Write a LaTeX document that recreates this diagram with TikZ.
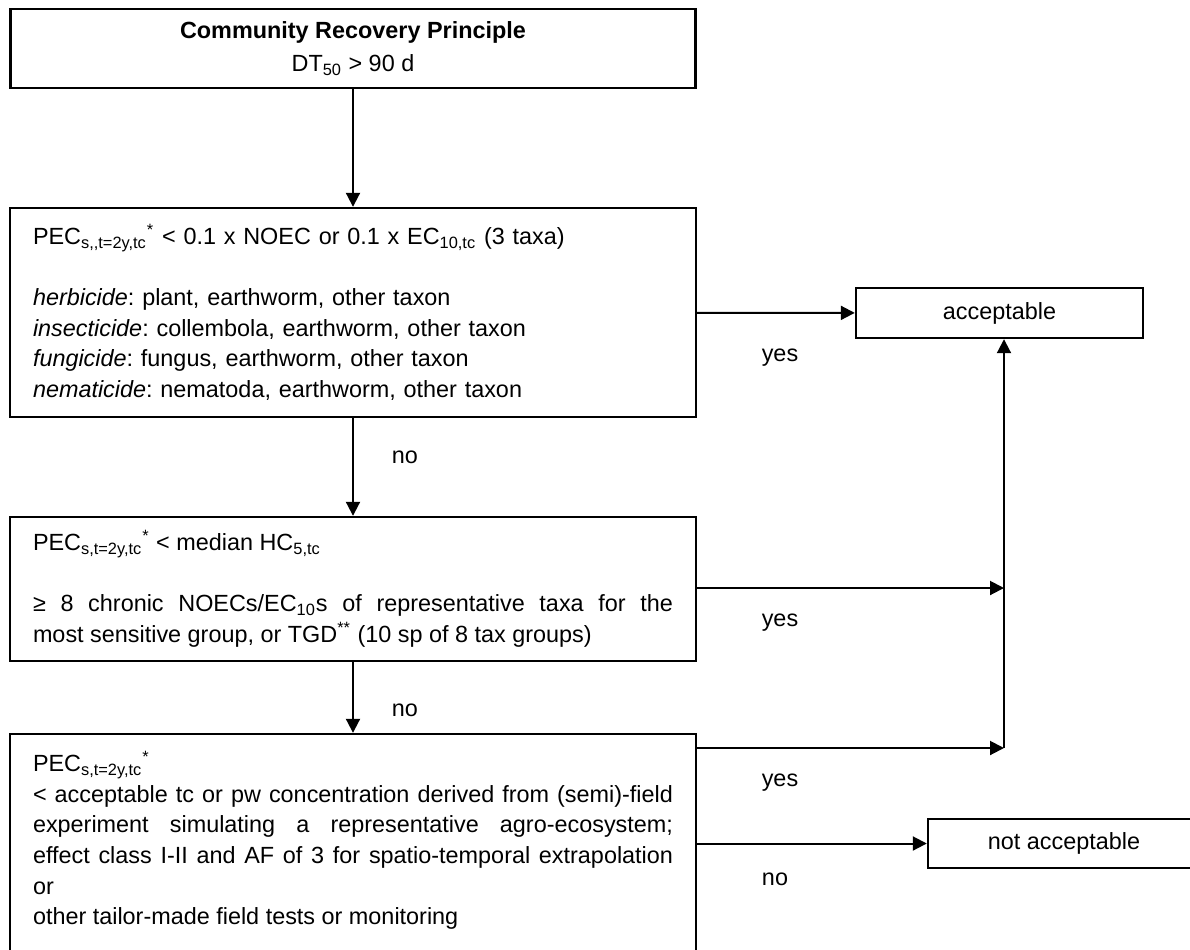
\documentclass[tikz,border=0pt]{standalone}
\usepackage{fontspec}
\setmainfont{Liberation Sans}
\usetikzlibrary{arrows.meta}
\frenchspacing
\hyphenpenalty=10000
\begin{document}
\begin{tikzpicture}[x=0.5pt,y=-0.5pt,
    box/.style={draw,line width=1.2pt,inner sep=0pt,font=\fontsize{11.7}{15.3}\selectfont},
    lbl/.style={inner sep=0pt,font=\fontsize{11.7}{13}\selectfont},
    arr/.style={-{Triangle[length=7pt,width=7pt]},line width=1pt}]
  \useasboundingbox (0,0) rectangle (1190,949);
  \node[box,minimum width=342.5pt,minimum height=39.5pt,align=center] (crp) at (353,48.5)
    {\textbf{Community Recovery Principle}\\[1.5pt]DT\textsubscript{50} > 90 d};
  \node[box,minimum width=343pt,minimum height=104.5pt,text width=320pt,align=left] (tier1) at (353,312.5)
    {PEC\textsubscript{s,\kern0pt,t=2y,tc}\textsuperscript{*} < 0.1 x NOEC or 0.1 x EC\textsubscript{10,tc} (3 taxa)\\[15.3pt]
     \textit{herbicide}: plant, earthworm, other taxon\\
     \textit{insecticide}: collembola, earthworm, other taxon\\
     \textit{fungicide}: fungus, earthworm, other taxon\\
     \textit{nematicide}: nematoda, earthworm, other taxon};
  \node[box,minimum width=343pt,minimum height=72pt,text width=320pt,align=justify] (tier2) at (353,589)
    {PEC\textsubscript{s,t=2y,tc}\textsuperscript{*} < median HC\textsubscript{5,tc}\\[15.3pt]
     ≥ 8 chronic NOECs/EC\textsubscript{10}s of representative taxa for the\linebreak
     most sensitive group, or TGD\textsuperscript{**} (10 sp of 8 tax groups)};
  \node[box,minimum width=343pt,minimum height=120.5pt,text width=320pt,align=justify] (tier3) at (353,854.5)
    {PEC\textsubscript{s,t=2y,tc}\textsuperscript{*}\\
     < acceptable tc or pw concentration derived from (semi)-field\linebreak
     experiment simulating a representative agro-ecosystem;\linebreak
     effect class I-II and AF of 3 for spatio-temporal extrapolation\linebreak
     or\\
     other tailor-made field tests or monitoring\\[1pt]\mbox{}};
  \node[box,minimum width=143.5pt,minimum height=25pt] (acc) at (999.5,313) {acceptable};
  \node[box,minimum width=136pt,minimum height=24.5pt] (nacc) at (1064,843.5) {not acceptable};
  \coordinate (j1) at (1004,588);
  \coordinate (j2) at (1004,748);
  \node[lbl] (yes1) at (780,358) {yes};
  \node[lbl] (yes2) at (780,623) {yes};
  \node[lbl] (yes3) at (780,783) {yes};
  \node[lbl] (no1) at (405,457) {no};
  \node[lbl] (no2) at (405,710) {no};
  \node[lbl] (no3) at (775,879) {no};
  \draw[arr] (crp) -- (tier1);
  \draw[arr] (tier1) -- (tier2);
  \draw[arr] (tier2) -- (tier3);
  \draw[arr] (tier1) -- (acc);
  \draw[arr] (tier2.east |- j1) -- (j1);
  \draw[arr] (tier3.east |- j2) -- (j2);
  \draw[arr] (j2) -- (j2 |- acc.south);
  \draw[arr] (tier3.east |- nacc) -- (nacc);
\end{tikzpicture}
\end{document}
